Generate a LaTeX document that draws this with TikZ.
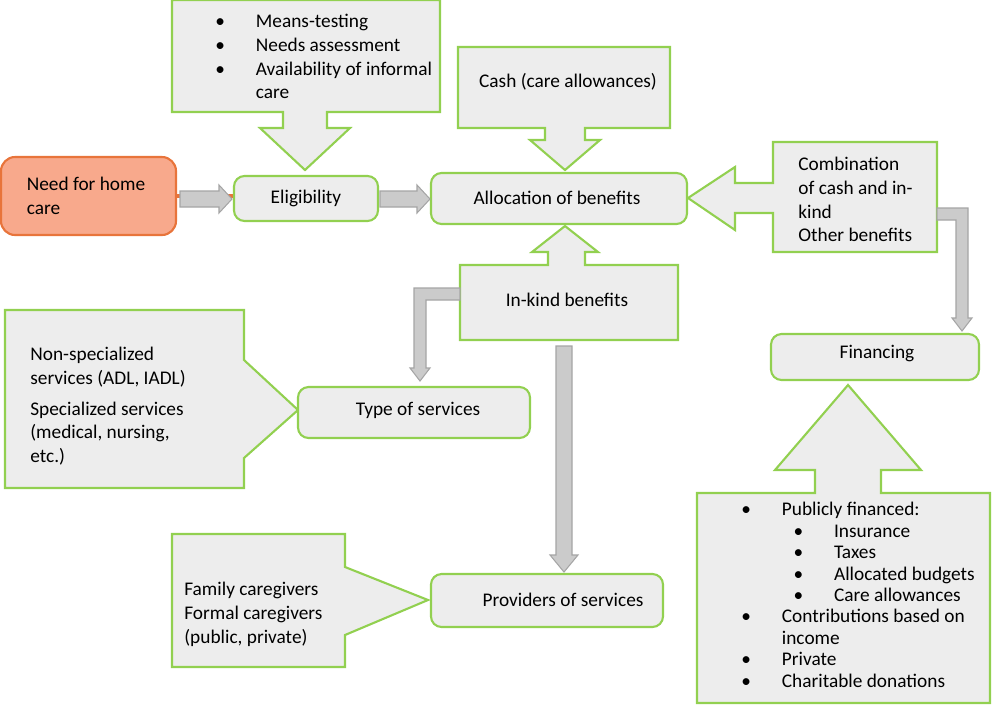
\documentclass[tikz,border=0pt]{standalone}
\usepackage{fontspec}
\setmainfont{Carlito}
\definecolor{boxgreen}{HTML}{92D050}
\definecolor{boxfill}{HTML}{EDEDED}
\definecolor{arrowfill}{HTML}{CBCBCB}
\definecolor{arrowline}{HTML}{A5A5A5}
\definecolor{needfill}{HTML}{F8A98C}
\definecolor{needline}{HTML}{E8743B}
\newcommand{\bl}{\textbullet\hspace{1.6em}}
\begin{document}
\begin{tikzpicture}[x=0.02cm,y=-0.02cm,
    callout/.style={draw=boxgreen,fill=boxfill,line width=1.2pt,line join=miter},
    step box/.style={draw=boxgreen,fill=boxfill,line width=1.2pt,rounded corners=6pt},
    flow arrow/.style={draw=arrowline,fill=arrowfill,line width=0.6pt},
    txt/.style={font=\fontsize{11}{13.5}\selectfont,align=left,inner sep=0pt}]
  \useasboundingbox (0,0) rectangle (1000,704);

  % callouts
  \draw[callout] (172,0)--(440,0)--(440,112)--(327,112)--(327,128)--(350,128)--(305,170)
    --(260,128)--(283,128)--(283,112)--(172,112)--cycle;
  \draw[callout] (458,47)--(670,47)--(670,128)--(585,128)--(585,140)--(600,140)--(565,170)
    --(530,140)--(545,140)--(545,128)--(458,128)--cycle;
  \draw[callout] (937,142)--(773,142)--(773,183)--(735,183)--(735,167)--(688,198)
    --(735,230)--(735,213)--(773,213)--(773,252)--(937,252)--cycle;
  \draw[callout] (460,340)--(678,340)--(678,265)--(585,265)--(585,252)--(598,252)--(565,226)
    --(532,252)--(548,252)--(548,265)--(460,265)--cycle;
  \draw[callout] (5,310)--(244,310)--(244,360)--(298,410)--(244,458)--(244,488)--(5,488)--cycle;
  \draw[callout] (172,534)--(345,534)--(345,567)--(428,600)--(345,635)--(345,667)--(172,667)--cycle;
  \draw[callout] (697,493)--(815,493)--(815,470)--(775,470)--(848,385)--(921,470)--(881,470)
    --(881,493)--(990,493)--(990,703)--(697,703)--cycle;

  % boxes
  \node[step box,draw=needline,fill=needfill,minimum width=176\pgflinewidth,
        txt,text width=110pt] (need) at (88,196) {};
  \draw[draw=needline,fill=needfill,line width=1.2pt,rounded corners=8pt] (1,157) rectangle (176,235);
  \node[txt] (needtxt) at (86,196) {Need for home\\care};
  \draw[step box] (234,176) rectangle (378,221);
  \node[txt] (elig) at (306,198) {Eligibility};
  \draw[step box] (431,173) rectangle (687,224);
  \node[txt] (alloc) at (557,198) {Allocation of benefits};
  \draw[step box] (298,387) rectangle (530,438);
  \node[txt] (types) at (418,410) {Type of services};
  \draw[step box] (771,334) rectangle (979,380);
  \node[txt] (fin) at (877,354) {Financing};
  \draw[step box] (431,574) rectangle (663,627);
  \node[txt] (prov) at (563,600) {Providers of services};

  % grey arrows
  \draw[flow arrow] (180,191)--(219,191)--(219,185)--(232,199)--(219,213)--(219,207)--(180,207)--cycle;
  \draw[flow arrow] (380,191)--(417,191)--(417,185)--(430,199)--(417,213)--(417,207)--(380,207)--cycle;
  \draw[flow arrow] (937,208)--(968,208)--(968,318)--(972,318)--(962,331)--(952,318)--(956,318)
    --(956,220)--(937,220)--cycle;
  \draw[flow arrow] (460,288)--(414,288)--(414,368)--(410,368)--(420,381)--(430,368)--(426,368)
    --(426,300)--(460,300)--cycle;
  \draw[flow arrow] (556,346)--(572,346)--(572,555)--(578,555)--(564,572)--(550,555)--(556,555)--cycle;

  % texts
  \node[txt,anchor=north west] (crit) at (215,14) {\bl Means-testing\\\bl Needs assessment\\
    \bl Availability of informal\\\phantom{\textbullet}\hspace{1.6em}care};
  \node[txt] (cash) at (568,82) {Cash (care allowances)};
  \node[txt,anchor=north west] (comb) at (798,157) {Combination\\of cash and in-\\kind\\Other benefits};
  \node[txt] (inkind) at (567,300) {In-kind benefits};
  \node[txt,anchor=north west] (serv) at (30,347) {Non-specialized\\services (ADL, IADL)\\[4pt]
    Specialized services\\(medical, nursing,\\etc.)};
  \node[txt,anchor=north west] (givers) at (184,582) {Family caregivers\\Formal caregivers\\(public, private)};
  \node[txt,anchor=north west,font=\fontsize{11}{12.2}\selectfont] (sources) at (741,502) {\bl Publicly financed:\\
    \hspace{2.7em}\bl Insurance\\\hspace{2.7em}\bl Taxes\\\hspace{2.7em}\bl Allocated budgets\\
    \hspace{2.7em}\bl Care allowances\\\bl Contributions based on\\\phantom{\textbullet}\hspace{1.6em}income\\
    \bl Private\\\bl Charitable donations};
\end{tikzpicture}
\end{document}
